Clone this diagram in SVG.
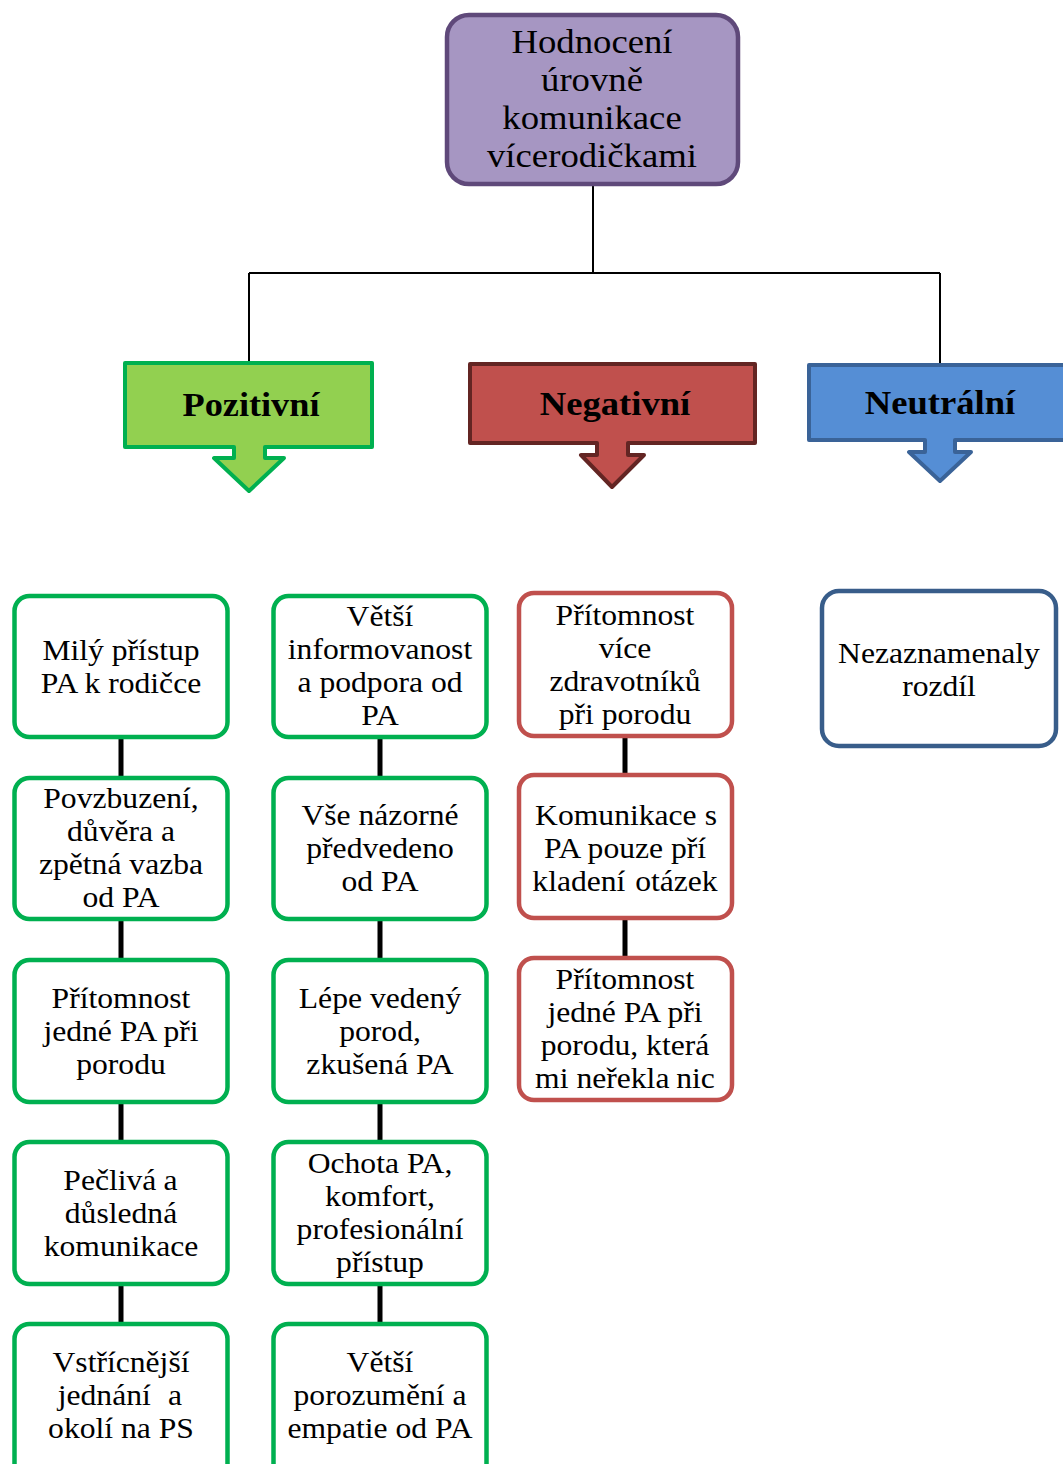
<svg xmlns="http://www.w3.org/2000/svg" width="1063" height="1464" viewBox="0 0 1063 1464">
<style>
text{font-family:"Liberation Serif","Times New Roman",serif;fill:#000;text-anchor:middle;white-space:pre}
.t{font-size:28.5px}
.top{font-size:34px}
.cat{font-size:33px;font-weight:bold}
.s{text-anchor:start}
.e{text-anchor:end}
.g{fill:#fff;stroke:#00B050;stroke-width:4.5}
.r{fill:#fff;stroke:#C0504D;stroke-width:4.5}
.b{fill:#fff;stroke:#385D8A;stroke-width:4.5}
.thin{fill:none;stroke:#000;stroke-width:2}
.thick{fill:none;stroke:#000;stroke-width:5}
</style>
<rect width="1063" height="1464" fill="#fff"/>
<g id="connectors">
<path class="thin" d="M593 184V273M249 273H940M249 273V362M940 273V364"/>
<path class="thick" d="M121 737V778M121 919V960M121 1102V1142M121 1284V1324"/>
<path class="thick" d="M380 737V778M380 919V960M380 1102V1142M380 1284V1324"/>
<path class="thick" d="M625 736V775M625 918V958"/>
</g>
<g id="root">
<rect x="447" y="15" width="291" height="169" rx="22" fill="#A696C2" stroke="#5F497A" stroke-width="4.5"/>
<g transform="translate(592 0) scale(1.08 1)">
<text class="top" x="0" y="53">Hodnocení</text>
<text class="top" x="0" y="91">úrovně</text>
<text class="top" x="0" y="129">komunikace</text>
<text class="top" x="0" y="167">vícerodičkami</text>
</g>
</g>
<g id="pozitivni">
<path d="M125 363H372V447H265V458H284L249 491L214 458H234V447H125Z" fill="#92D050" stroke="#00B050" stroke-width="4" stroke-linejoin="round"/>
<text class="cat" transform="translate(251 0) scale(1.1 1)" x="0" y="416">Pozitivní</text>
</g>
<g id="negativni">
<path d="M470 364H755V443H628V455H644L612 487L581 455H597V443H470Z" fill="#C0504D" stroke="#632523" stroke-width="4" stroke-linejoin="round"/>
<text class="cat" transform="translate(615 0) scale(1.11 1)" x="0" y="415">Negativní</text>
</g>
<g id="neutralni">
<path d="M809 365H1070V440H955V452H971L940 481L909 452H925V440H809Z" fill="#558ED5" stroke="#3A6398" stroke-width="4" stroke-linejoin="round"/>
<text class="cat" transform="translate(940 0) scale(1.11 1)" x="0" y="414">Neutrální</text>
</g>
<g id="p1"><rect class="g" x="14.5" y="596" width="213" height="141" rx="15"/>
<g transform="translate(121 0) scale(1.11 1)"><text class="t" x="0" y="660">Milý přístup</text><text class="t" x="0" y="693">PA k rodičce</text></g></g>
<g id="p2"><rect class="g" x="14.5" y="778" width="213" height="141" rx="15"/>
<g transform="translate(121 0) scale(1.11 1)"><text class="t" x="0" y="808">Povzbuzení,</text><text class="t" x="0" y="841">důvěra a</text><text class="t" x="0" y="874">zpětná vazba</text><text class="t" x="0" y="907">od PA</text></g></g>
<g id="p3"><rect class="g" x="14.5" y="960" width="213" height="142" rx="15"/>
<g transform="translate(121 0) scale(1.11 1)"><text class="t" x="0" y="1008">Přítomnost</text><text class="t" x="0" y="1041">jedné PA při</text><text class="t" x="0" y="1074">porodu</text></g></g>
<g id="p4"><rect class="g" x="14.5" y="1142" width="213" height="142" rx="15"/>
<g transform="translate(121 0) scale(1.11 1)"><text class="t s" x="-52" y="1190">Pečlivá</text><text class="t e" x="51" y="1190">a</text><text class="t" x="0" y="1223">důsledná</text><text class="t" x="0" y="1256">komunikace</text></g></g>
<g id="p5"><rect class="g" x="14.5" y="1324" width="213" height="160" rx="15"/>
<g transform="translate(121 0) scale(1.11 1)"><text class="t" x="0" y="1372">Vstřícnější</text><text class="t s" x="-57" y="1405">jednání</text><text class="t e" x="55" y="1405">a</text><text class="t" x="0" y="1438">okolí na PS</text></g></g>
<g id="p6"><rect class="g" x="273.5" y="596" width="213" height="141" rx="15"/>
<g transform="translate(380 0) scale(1.11 1)"><text class="t" x="0" y="626">Větší</text><text class="t" x="0" y="659">informovanost</text><text class="t" x="0" y="692">a podpora od</text><text class="t" x="0" y="725">PA</text></g></g>
<g id="p7"><rect class="g" x="273.5" y="778" width="213" height="141" rx="15"/>
<g transform="translate(380 0) scale(1.11 1)"><text class="t" x="0" y="825">Vše názorné</text><text class="t" x="0" y="858">předvedeno</text><text class="t" x="0" y="891">od PA</text></g></g>
<g id="p8"><rect class="g" x="273.5" y="960" width="213" height="142" rx="15"/>
<g transform="translate(380 0) scale(1.11 1)"><text class="t" x="0" y="1008">Lépe vedený</text><text class="t" x="0" y="1041">porod,</text><text class="t" x="0" y="1074">zkušená PA</text></g></g>
<g id="p9"><rect class="g" x="273.5" y="1142" width="213" height="142" rx="15"/>
<g transform="translate(380 0) scale(1.11 1)"><text class="t" x="0" y="1173">Ochota PA,</text><text class="t" x="0" y="1206">komfort,</text><text class="t" x="0" y="1239">profesionální</text><text class="t" x="0" y="1272">přístup</text></g></g>
<g id="p10"><rect class="g" x="273.5" y="1324" width="213" height="160" rx="15"/>
<g transform="translate(380 0) scale(1.11 1)"><text class="t" x="0" y="1372">Větší</text><text class="t" x="0" y="1405">porozumění a</text><text class="t" x="0" y="1438">empatie od PA</text></g></g>
<g id="n1"><rect class="r" x="519" y="593" width="213" height="143" rx="15"/>
<g transform="translate(625 0) scale(1.11 1)"><text class="t" x="0" y="625">Přítomnost</text><text class="t" x="0" y="658">více</text><text class="t" x="0" y="691">zdravotníků</text><text class="t" x="0" y="724">při porodu</text></g></g>
<g id="n2"><rect class="r" x="519" y="775" width="213" height="143" rx="15"/>
<g transform="translate(625 0) scale(1.11 1)"><text class="t s" x="-81" y="825">Komunikace</text><text class="t e" x="83" y="825">s</text><text class="t" x="0" y="858">PA pouze pří</text><text class="t s" x="-83.5" y="891">kladení</text><text class="t e" x="83.5" y="891">otázek</text></g></g>
<g id="n3"><rect class="r" x="519" y="958" width="213" height="142" rx="15"/>
<g transform="translate(625 0) scale(1.11 1)"><text class="t" x="0" y="989">Přítomnost</text><text class="t" x="0" y="1022">jedné PA při</text><text class="t" x="0" y="1055">porodu, která</text><text class="t s" x="-81" y="1088">mi neřekla</text><text class="t e" x="81" y="1088">nic</text></g></g>
<g id="neutral1"><rect class="b" x="822" y="591" width="234" height="155" rx="17"/>
<g transform="translate(939 0) scale(1.11 1)"><text class="t" x="0" y="663">Nezaznamenaly</text><text class="t" x="0" y="696">rozdíl</text></g></g>
</svg>
